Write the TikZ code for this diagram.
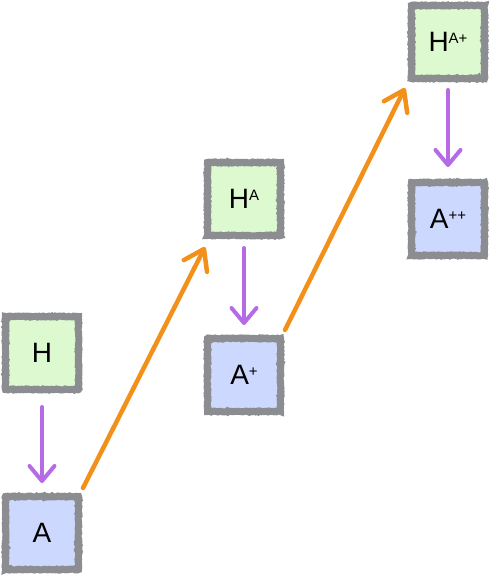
\documentclass[tikz,border=0pt]{standalone}
\usepackage{fontspec}
\setmainfont{Liberation Sans}
\usetikzlibrary{arrows.meta,decorations.pathmorphing}
\definecolor{boxgray}{HTML}{8B8D91}
\definecolor{hgreen}{HTML}{DDF9CF}
\definecolor{ablue}{HTML}{CDD8FE}
\definecolor{purp}{HTML}{B56BE6}
\definecolor{orng}{HTML}{F39019}
\newcommand\upr[1]{\raisebox{8pt}{\fontsize{15}{15}\selectfont #1}}
\begin{document}
\begin{tikzpicture}[x=1pt,y=-1pt,
  box/.style={draw=boxgray, line width=7pt, minimum size=73pt, inner sep=0pt,
    font=\fontsize{28}{28}\selectfont,
    decorate, decoration={random steps,segment length=1.2pt,amplitude=0.5pt}},
  hbox/.style={box, fill=hgreen},
  abox/.style={box, fill=ablue},
  down/.style={draw=purp, line width=4pt, line cap=round,
    -{Straight Barb[length=15pt,width=25pt,line cap=round,line join=round]}},
  up/.style={draw=orng, line width=4.5pt, line cap=round,
    -{Straight Barb[length=19pt,width=26pt,line cap=round,line join=round]}}]
\useasboundingbox (0,0) rectangle (489,575);
\node[hbox] (H)   at (42,353) {H};
\node[abox] (A)   at (42,533) {A};
\node[hbox] (HA)  at (244,199) {H\upr{A}};
\node[abox] (Ap)  at (244,375) {A\upr{+}};
\node[hbox] (HAp) at (448,42) {H\upr{A+}};
\node[abox] (App) at (448,219) {A\upr{++}};
\draw[down, shorten <=14pt, shorten >=10pt] (H.south) -- (A.north);
\draw[down, shorten <=9pt, shorten >=10pt] (HA.south) -- (Ap.north);
\draw[down, shorten <=8pt, shorten >=12pt] (HAp.south) -- (App.north);
\draw[up] ([shift={(1,-5)}]A.north east) -- ([shift={(1,8)}]HA.south west);
\draw[up] ([shift={(1,-5)}]Ap.north east) -- ([shift={(-3,6)}]HAp.south west);
\end{tikzpicture}
\end{document}
